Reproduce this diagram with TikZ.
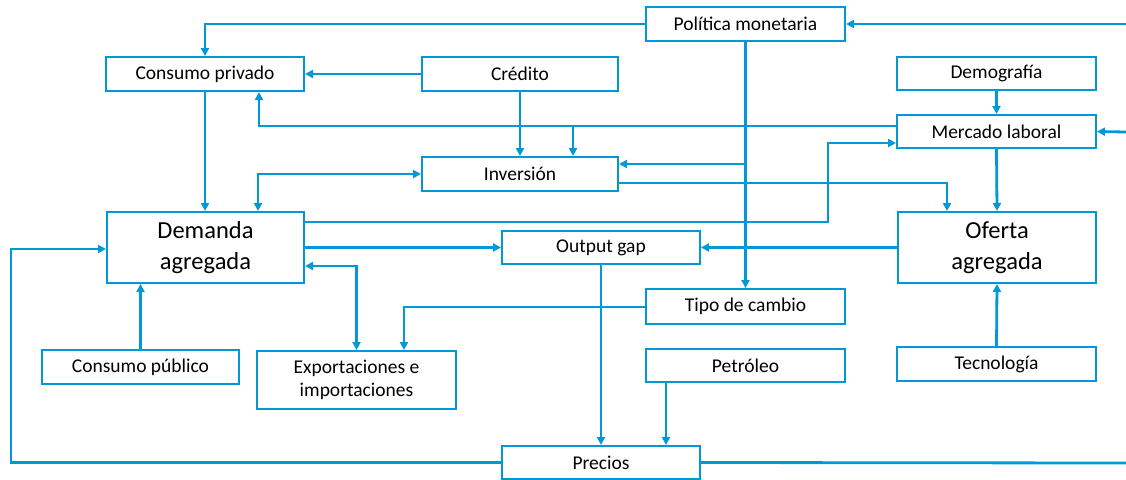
\documentclass[tikz,border=0pt]{standalone}
\usepackage{fontspec}
\setmainfont{Carlito}
\usetikzlibrary{arrows.meta}
\definecolor{lb}{RGB}{0,152,214}
\begin{document}
\begin{tikzpicture}[x=1pt,y=-1pt,
  box/.style={draw=lb,line width=2pt,fill=white,inner sep=0pt,align=center,
    font=\fontsize{19.5}{23.4}\selectfont},
  big/.style={box,font=\fontsize{24.5}{31}\selectfont},
  link/.style={draw=lb,line width=2.8pt},
  arr/.style={link,-{Triangle[length=8pt,width=8pt]}},
  darr/.style={link,{Triangle[length=8pt,width=8pt]}-{Triangle[length=8pt,width=8pt]}}]
\useasboundingbox (0,0) rectangle (1126,479);
\fill[white] (0,0) rectangle (1126,479);

% boxes
\node[box,minimum width=199pt,minimum height=34pt] (pol) at (745.5,24) {Política monetaria};
\node[box,minimum width=198pt,minimum height=34pt] (cpriv) at (205,74) {Consumo privado};
\node[box,minimum width=196pt,minimum height=34pt] (cred) at (520,74) {Crédito};
\node[box,minimum width=199pt,minimum height=33pt] (demo) at (996.5,73.5) {Demografía};
\node[box,minimum width=199pt,minimum height=33pt] (merc) at (996.5,131.5) {Mercado laboral};
\node[box,minimum width=196pt,minimum height=34pt] (inv) at (520,174) {Inversión};
\node[big,minimum width=197pt,minimum height=71pt] (dem) at (205.5,247.5) {Demanda\\agregada};
\node[box,minimum width=198pt,minimum height=33pt] (og) at (601,247.5) {Output gap};
\node[big,minimum width=198pt,minimum height=71pt] (ofe) at (997,247.5) {Oferta\\agregada};
\node[box,minimum width=199pt,minimum height=35pt] (tipo) at (745.5,306.5) {Tipo de cambio};
\node[box,minimum width=197pt,minimum height=34pt] (cpub) at (140.5,367) {Consumo público};
\node[box,minimum width=199pt,minimum height=58pt] (exp) at (356.5,380) {Exportaciones e\\importaciones};
\node[box,minimum width=199pt,minimum height=33pt] (pet) at (745.5,365.5) {Petróleo};
\node[box,minimum width=199pt,minimum height=34pt] (tec) at (996.5,364) {Tecnología};
\node[box,minimum width=198pt,minimum height=33pt] (pre) at (601,462.5) {Precios};

% helper coordinates
\coordinate (rpol) at (1126,24);
\coordinate (rmer) at (1126,132);
\coordinate (rpre) at (1126,463);
\coordinate (kml) at (259,126);
\coordinate (kinv) at (573,126);
\coordinate (kpolinv) at (745.5,164);
\coordinate (kinvofe) at (947,183);
\coordinate (kdm1) at (828,222);
\coordinate (kdm2) at (828,143);
\coordinate (kexp) at (356.5,266);
\coordinate (ktc) at (404,307);
\coordinate (kinvd) at (258,174);
\coordinate (kpre2) at (11,249);
\coordinate (kpet) at (666,0);

% connectors
\draw[arr] (pol.west) -| (cpriv.north);
\draw[arr] (rpol) -- (pol.east);
\draw[arr] (cred.west) -- (cpriv.east);
\draw[arr] (cred.south) -- (inv.north);
\draw[arr] (merc.west |- kml) -- (kml) -- (cpriv.south -| kml);
\draw[arr] (kinv) -- (inv.north -| kinv);
\draw[arr] (pol.south) -- (tipo.north);
\draw[arr] (kpolinv) -- (inv.east |- kpolinv);
\draw[arr] (inv.east |- kinvofe) -| (ofe.north -| kinvofe);
\draw[arr] (demo.south) -- (merc.north);
\draw[arr] (merc.south) -- (ofe.north);
\draw[arr] (dem.east |- kdm1) -- (kdm1) -- (kdm2) -- (merc.west |- kdm2);
\draw[arr] (dem.east) -- (og.west);
\draw[arr] (ofe.west) -- (og.east);
\draw[arr] (og.south) -- (pre.north);
\draw[arr] (pet.south -| kpet) -- (pre.north -| kpet);
\draw[arr] (tipo.west |- ktc) -| (exp.north -| ktc);
\draw[darr] (dem.east |- kexp) -| (exp.north);
\draw[darr] (dem.north -| kinvd) |- (inv.west);
\draw[arr] (cpriv.south) -- (cpriv.south |- dem.north);
\draw[arr] (cpub.north) -- (cpub.north |- dem.south);
\draw[arr] (pre.west) -| (kpre2) -- (dem.west |- kpre2);
\draw[link] (pre.east) -- (rpre);
\draw[arr] (rmer) -- (merc.east);
\draw[arr] (tec.north) -- (ofe.south);
\end{tikzpicture}
\end{document}
